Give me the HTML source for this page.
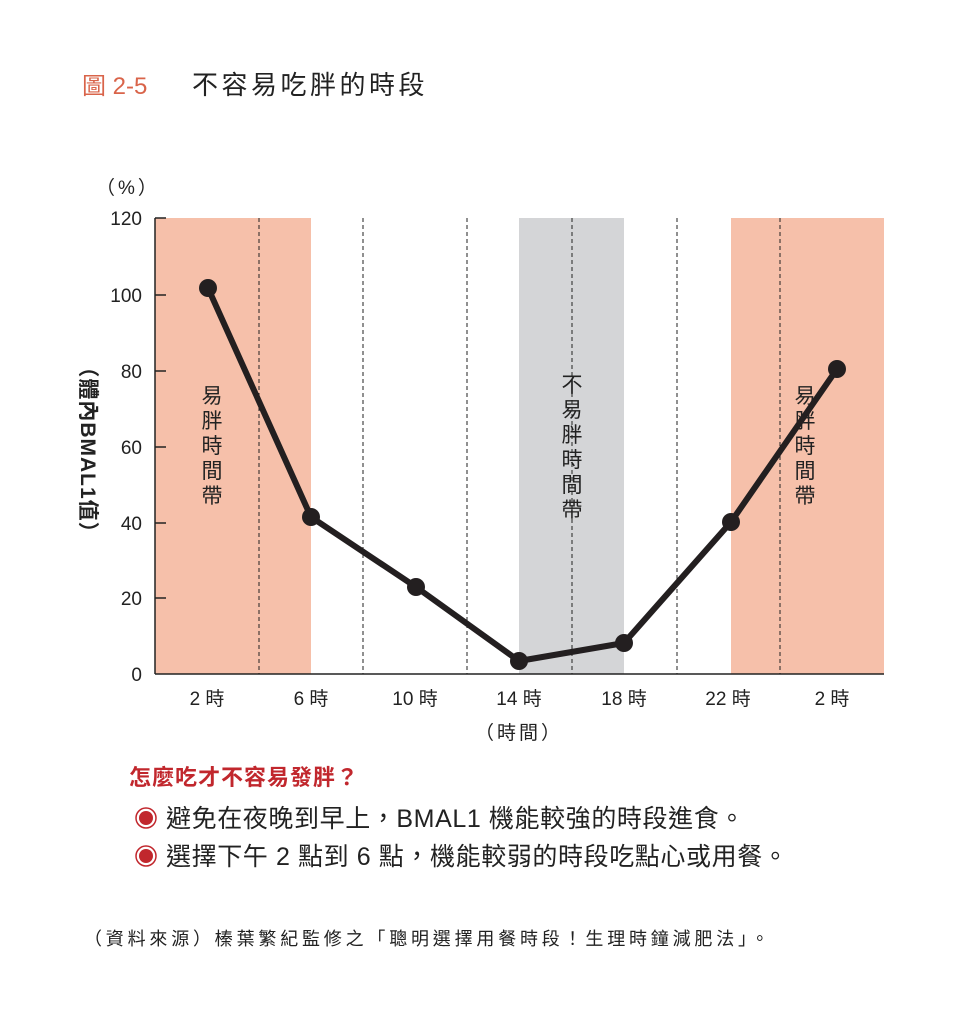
<!DOCTYPE html><html><head><meta charset="utf-8"><style>
body{margin:0;background:#fff;width:969px;height:1024px;overflow:hidden}
svg text{font-family:"Liberation Sans","Noto Sans CJK TC",sans-serif}
</style></head><body>
<svg width="969" height="1024" viewBox="0 0 969 1024" xmlns="http://www.w3.org/2000/svg">
<text x="82" y="94" font-size="24" fill="#d9644a">圖 2-5</text>
<text x="192" y="94" font-size="26" fill="#222" letter-spacing="3.5">不容易吃胖的時段</text>
<text x="96" y="194" font-size="19" fill="#222" letter-spacing="3">（%）</text>
<rect x="155" y="218" width="156" height="456" fill="#f6c0aa"/>
<rect x="519" y="218" width="105" height="456" fill="#d4d5d7"/>
<rect x="731" y="218" width="153" height="456" fill="#f6c0aa"/>
<g stroke="#222" stroke-width="1" stroke-dasharray="4,3">
<line x1="259" y1="218" x2="259" y2="674"/><line x1="363" y1="218" x2="363" y2="674"/>
<line x1="467" y1="218" x2="467" y2="674"/><line x1="572" y1="218" x2="572" y2="674"/>
<line x1="677" y1="218" x2="677" y2="674"/><line x1="780" y1="218" x2="780" y2="674"/>
</g>
<g stroke="#222" stroke-width="1.5">
<line x1="155" y1="218" x2="155" y2="674"/><line x1="155" y1="674" x2="884" y2="674"/>
<line x1="155" y1="218" x2="166" y2="218"/><line x1="155" y1="295" x2="166" y2="295"/>
<line x1="155" y1="371" x2="166" y2="371"/><line x1="155" y1="447" x2="166" y2="447"/>
<line x1="155" y1="523" x2="166" y2="523"/><line x1="155" y1="598" x2="166" y2="598"/>
</g>
<g font-size="19" fill="#222" text-anchor="end">
<text x="142" y="225">120</text><text x="142" y="302">100</text><text x="142" y="378">80</text>
<text x="142" y="454">60</text><text x="142" y="530">40</text><text x="142" y="605">20</text><text x="142" y="681">0</text>
</g>
<g font-size="19" fill="#222" text-anchor="middle">
<text x="207" y="705">2 時</text><text x="311" y="705">6 時</text><text x="415" y="705">10 時</text>
<text x="519" y="705">14 時</text><text x="624" y="705">18 時</text><text x="728" y="705">22 時</text><text x="832" y="705">2 時</text>
<text x="519" y="739" letter-spacing="3">（時間）</text>
</g>
<text transform="translate(81,450) rotate(90)" font-size="21" font-weight="bold" fill="#222" text-anchor="middle" letter-spacing="1">（體內BMAL1值）</text>
<g font-size="21" fill="#222" text-anchor="middle">
<text x="212" y="403">易</text><text x="212" y="428">胖</text><text x="212" y="453">時</text><text x="212" y="478">間</text><text x="212" y="503">帶</text>
<text x="572" y="392">不</text><text x="572" y="417">易</text><text x="572" y="442">胖</text><text x="572" y="467">時</text><text x="572" y="492">間</text><text x="572" y="517">帶</text>
<text x="805" y="403">易</text><text x="805" y="428">胖</text><text x="805" y="453">時</text><text x="805" y="478">間</text><text x="805" y="503">帶</text>
</g>
<polyline points="208,288 311,517 416,587 519,661 624,643 731,522 837,369" fill="none" stroke="#231f20" stroke-width="6" stroke-linejoin="round"/>
<g fill="#231f20">
<circle cx="208" cy="288" r="9"/><circle cx="311" cy="517" r="9"/><circle cx="416" cy="587" r="9"/>
<circle cx="519" cy="661" r="9"/><circle cx="624" cy="643" r="9"/><circle cx="731" cy="522" r="9"/><circle cx="837" cy="369" r="9"/>
</g>
<text x="129" y="785" font-size="22" font-weight="bold" fill="#c1272d" letter-spacing="1">怎麼吃才不容易發胖？</text>
<g><circle cx="146" cy="818" r="10" fill="#fff" stroke="#c1272d" stroke-width="1.5"/><circle cx="146" cy="818" r="7" fill="#c1272d"/>
<circle cx="146" cy="856" r="10" fill="#fff" stroke="#c1272d" stroke-width="1.5"/><circle cx="146" cy="856" r="7" fill="#c1272d"/></g>
<text x="166" y="827" font-size="25" fill="#222" letter-spacing="0.6">避免在夜晚到早上，BMAL1 機能較強的時段進食。</text>
<text x="166" y="865" font-size="25" fill="#222" letter-spacing="0.6">選擇下午 2 點到 6 點，機能較弱的時段吃點心或用餐。</text>
<text x="84" y="945" font-size="18" fill="#222" letter-spacing="3.8">（資料來源）榛葉繁紀監修之「聰明選擇用餐時段！生理時鐘減肥法」。</text>
</svg>
</body></html>
